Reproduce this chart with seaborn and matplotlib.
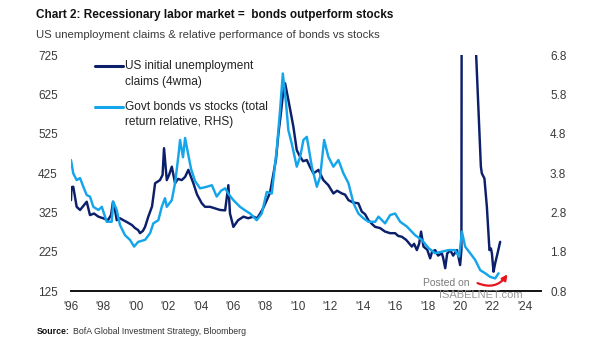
import matplotlib
matplotlib.use("Agg")
import matplotlib.pyplot as plt
import seaborn as sns
import pandas as pd
from matplotlib.lines import Line2D
from matplotlib.patches import FancyArrowPatch

# US initial unemployment claims (4wma), thousands (left axis)
claims_year = [1996.00, 1996.03, 1996.14, 1996.35, 1996.56, 1996.97, 1997.17, 1997.42, 1997.69, 1997.98,
               1998.28, 1998.47, 1998.59, 1998.72, 1998.82, 1999.02, 1999.23, 1999.46, 1999.75, 1999.95,
               2000.14, 2000.26, 2000.44, 2000.57, 2000.77, 2001.00, 2001.19, 2001.49, 2001.65, 2001.74,
               2001.91, 2002.05, 2002.22, 2002.42, 2002.60, 2002.83, 2003.04, 2003.24, 2003.55, 2003.78,
               2004.07, 2004.27, 2004.58, 2004.89, 2005.20, 2005.51, 2005.71, 2005.81, 2006.02, 2006.31,
               2006.64, 2006.93, 2007.25, 2007.48, 2007.67, 2007.85, 2008.08, 2008.28, 2008.49, 2008.65,
               2008.80, 2008.96, 2009.09, 2009.21, 2009.41, 2009.72, 2009.93, 2010.14, 2010.32, 2010.55,
               2010.75, 2010.96, 2011.27, 2011.57, 2011.88, 2012.19, 2012.42, 2012.71, 2012.91, 2013.12,
               2013.41, 2013.73, 2013.94, 2014.15, 2014.35, 2014.58, 2014.77, 2015.07, 2015.38, 2015.69,
               2016.00, 2016.19, 2016.41, 2016.68, 2017.03, 2017.17, 2017.34, 2017.48, 2017.60, 2017.75,
               2017.98, 2018.16, 2018.28, 2018.47, 2018.65, 2018.88, 2018.96, 2019.09, 2019.21, 2019.40,
               2019.58, 2019.81, 2019.89, 2020.01, 2020.09, 2020.12, 2020.17, 2020.40, 2020.65, 2020.85,
               2021.00, 2021.29, 2021.35, 2021.51, 2021.66, 2021.82, 2021.91, 2021.97, 2022.07, 2022.17,
               2022.32, 2022.48]
claims_value = [356, 389, 390, 339, 331, 352, 318, 322, 314, 310,
                305, 318, 352, 330, 305, 310, 305, 300, 293, 285,
                280, 272, 278, 288, 314, 340, 399, 407, 420, 488,
                407, 420, 441, 399, 410, 407, 415, 433, 399, 370,
                348, 339, 339, 335, 331, 330, 394, 322, 288, 305,
                314, 310, 314, 310, 322, 335, 356, 375, 424, 460,
                526, 580, 630, 653, 611, 543, 483, 466, 455, 458,
                440, 424, 433, 407, 394, 373, 380, 373, 370, 356,
                350, 348, 327, 320, 305, 295, 288, 285, 276, 272,
                272, 265, 263, 255, 238, 245, 229, 245, 276, 238,
                230, 208, 225, 229, 215, 221, 210, 183, 220, 229,
                215, 229, 215, 191, 230, 1500, 4000, 5000, 3000, 870,
                725, 441, 424, 411, 339, 229, 233, 221, 174, 195,
                221, 250]

# Govt bonds vs stocks, total return relative (right axis)
bonds_year = [1996.00, 1996.14, 1996.35, 1996.56, 1996.76, 1996.97, 1997.17, 1997.38, 1997.69, 1997.90,
              1998.20, 1998.51, 1998.61, 1998.82, 1999.02, 1999.33, 1999.64, 1999.89, 2000.15, 2000.57,
              2000.88, 2001.08, 2001.39, 2001.60, 2001.80, 2001.91, 2002.22, 2002.42, 2002.62, 2002.73,
              2002.91, 2003.04, 2003.22, 2003.41, 2003.65, 2003.96, 2004.38, 2004.69, 2004.99, 2005.26,
              2005.51, 2005.75, 2006.02, 2006.43, 2006.74, 2007.05, 2007.46, 2007.77, 2008.08, 2008.39,
              2008.70, 2008.90, 2009.07, 2009.27, 2009.41, 2009.62, 2009.93, 2010.14, 2010.34, 2010.55,
              2010.86, 2011.17, 2011.37, 2011.62, 2011.88, 2012.19, 2012.50, 2012.81, 2013.12, 2013.43,
              2013.73, 2014.04, 2014.35, 2014.77, 2014.97, 2015.38, 2015.69, 2016.00, 2016.31, 2016.72,
              2017.23, 2017.65, 2018.06, 2018.47, 2018.88, 2019.29, 2019.70, 2019.95, 2020.12, 2020.32,
              2020.63, 2020.94, 2021.25, 2021.56, 2021.86, 2022.17, 2022.38]
bonds_value = [4.13, 3.79, 3.62, 3.67, 3.45, 3.24, 3.20, 2.94, 2.86, 2.94,
               2.56, 2.56, 3.07, 2.86, 2.48, 2.22, 2.10, 1.93, 2.05, 2.10,
               2.27, 2.52, 2.60, 2.94, 3.16, 2.94, 3.11, 3.54, 4.21, 4.64,
               4.20, 4.69, 4.30, 3.90, 3.60, 3.41, 3.45, 3.49, 3.20, 3.35,
               3.41, 3.25, 3.11, 2.94, 2.85, 2.77, 2.60, 2.77, 3.32, 3.28,
               4.43, 5.40, 6.33, 5.57, 4.89, 4.55, 3.96, 4.21, 4.64, 4.72,
               3.96, 3.45, 3.70, 4.64, 4.21, 3.96, 4.13, 3.79, 3.54, 3.03,
               2.77, 2.65, 2.56, 2.56, 2.69, 2.52, 2.73, 2.77, 2.56, 2.44,
               2.22, 2.10, 1.89, 1.76, 1.80, 1.84, 1.84, 1.67, 2.31, 1.93,
               1.76, 1.59, 1.33, 1.25, 1.16, 1.12, 1.25]

left_ticks = [125, 225, 325, 425, 525, 625, 725]
right_ticks = [0.8, 1.8, 2.8, 3.8, 4.8, 5.8, 6.8]
x_ticks = list(range(1996, 2025, 2))
x_tick_labels = ["'96", "'98", "'00", "'02", "'04", "'06", "'08", "'10", "'12", "'14",
                 "'16", "'18", "'20", "'22", "'24"]

title = "Chart 2: Recessionary labor market =  bonds outperform stocks"
subtitle = "US unemployment claims & relative performance of bonds vs stocks"
legend_claims = ["US initial unemployment", "claims (4wma)"]
legend_bonds = ["Govt bonds vs stocks (total", "return relative, RHS)"]

NAVY = "#0b1f6b"
LIGHT = "#15a5ea"
TICK = "#3a3a3a"

sns.set_theme(style="white")
plt.rcParams['font.family'] = ['Liberation Sans', 'DejaVu Sans']

W, H = 605, 341
fig = plt.figure(figsize=(W / 100, H / 100), dpi=100)
fig.patch.set_facecolor("white")
ax = fig.add_axes([71 / W, 1 - 291 / H, 470 / W, 236 / H])

claims_df = pd.DataFrame({"year": claims_year, "claims": claims_value})
bonds_df = pd.DataFrame({"year": bonds_year, "rel": bonds_value})

sns.lineplot(data=claims_df, x="year", y="claims", ax=ax, color=NAVY, lw=1.75,
             estimator=None, sort=False)
ax2 = ax.twinx()
sns.lineplot(data=bonds_df, x="year", y="rel", ax=ax2, color=LIGHT, lw=1.75,
             estimator=None, sort=False)

ax.set_xlim(1996, 2025)
ax.set_ylim(125, 725)
ax2.set_ylim(0.8, 6.8)

ax.set_xlabel("")
ax.set_ylabel("")
ax2.set_ylabel("")

for s in ["top", "left", "right"]:
    ax.spines[s].set_visible(False)
for s in ["top", "left", "right", "bottom"]:
    ax2.spines[s].set_visible(False)
ax.spines["bottom"].set_color("#111111")
ax.spines["bottom"].set_linewidth(1.4)

ax.set_xticks(x_ticks)
ax.set_xticklabels(x_tick_labels)
ax.set_yticks(left_ticks)
ax.set_yticklabels([str(v) for v in left_ticks])
ax2.set_yticks(right_ticks)
ax2.set_yticklabels([f"{v:.1f}" for v in right_ticks])

ax.tick_params(axis="x", length=0, pad=7, labelsize=8.5, labelcolor=TICK)
ax.tick_params(axis="y", length=0, pad=9.5, labelsize=8.5, labelcolor=TICK)
ax2.tick_params(axis="y", length=0, pad=6.5, labelsize=8.5, labelcolor=TICK)
ax.grid(False)
ax2.grid(False)

fig.text(36 / W, 1 - 15 / H, title, fontsize=8.5, fontweight="bold",
         color="#111111", va="center", ha="left")
fig.text(36 / W, 1 - 35 / H, subtitle, fontsize=8.2,
         color="#3a3a3a", va="center", ha="left")

# legend drawn manually
for (ys, labels, col) in [((66, 82), legend_claims, NAVY), ((107, 122), legend_bonds, LIGHT)]:
    fig.add_artist(Line2D([95 / W, 123 / W], [1 - ys[0] / H, 1 - ys[0] / H],
                          transform=fig.transFigure, color=col, lw=2.2))
    for yy, lab in zip(ys, labels):
        fig.text(125 / W, 1 - yy / H, lab, fontsize=8.6, color="#222222",
                 va="center", ha="left")

# source
fig.text(37 / W, 1 - 332 / H, "Source:", fontsize=6.3, fontweight="bold",
         color="#111111", va="center", ha="left")
fig.text(73 / W, 1 - 332 / H, "BofA Global Investment Strategy, Bloomberg", fontsize=6.3,
         color="#333333", va="center", ha="left")

# watermark
fig.text(446 / W, 1 - 283 / H, "Posted on", fontsize=7.5, color="#7a7a7a", va="center", ha="center")
fig.text(481 / W, 1 - 295 / H, "ISABELNET.com", fontsize=8, color="#8c8c8c", va="center",
         ha="center", alpha=0.9)
arrow = FancyArrowPatch((475 / W, 1 - 282 / H), (509 / W, 1 - 272 / H), transform=fig.transFigure,
                        connectionstyle="arc3,rad=0.45", arrowstyle="-|>", mutation_scale=8,
                        color="#e8141c", lw=1.6)
fig.add_artist(arrow)

fig.savefig("out.png", dpi=100, facecolor="white")
